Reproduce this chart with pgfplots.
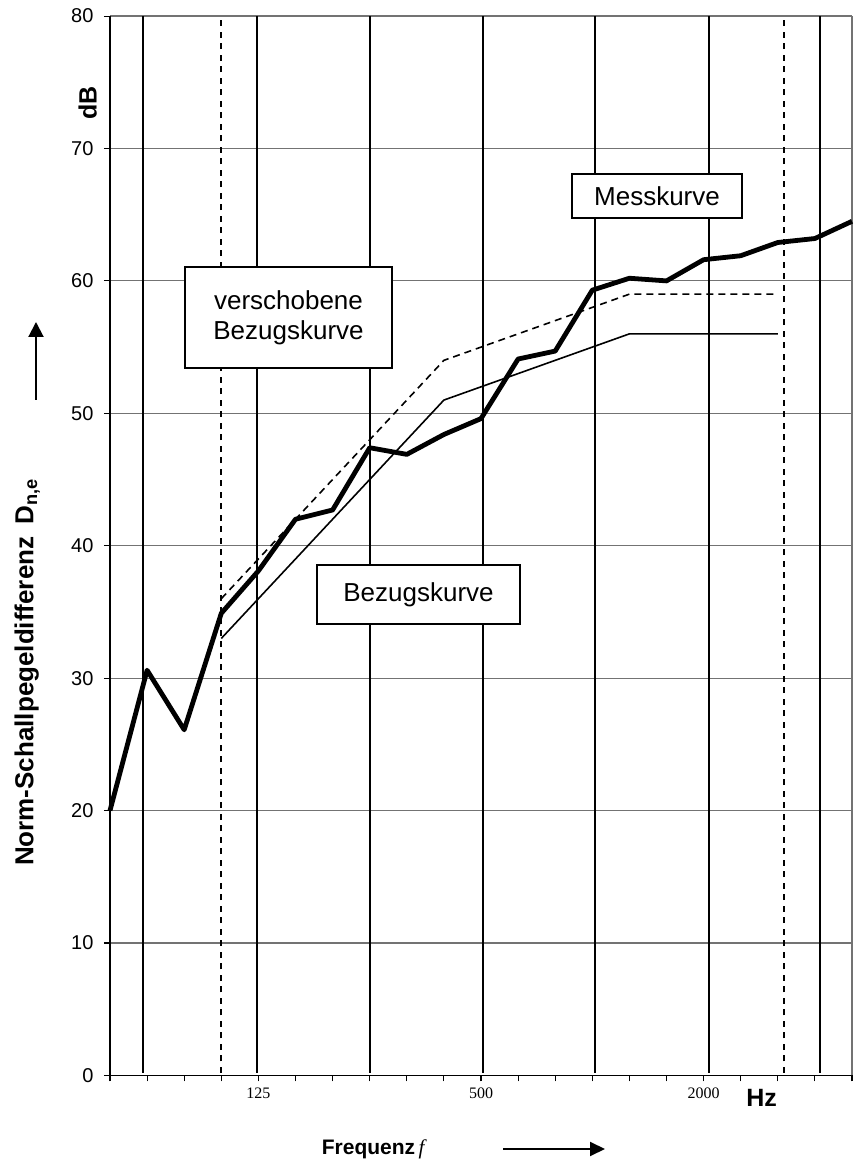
\documentclass[border=0pt]{standalone}
\usepackage{fontspec}
\setmainfont{Liberation Sans}
\newfontfamily\timesfont{Liberation Serif}
\usepackage{pgfplots}
\pgfplotsset{compat=1.18}
\usetikzlibrary{arrows.meta}

\begin{document}
\begin{tikzpicture}
\useasboundingbox (-110pt,-83.6pt) rectangle (746pt,1075.4pt);
\begin{axis}[
  at={(0pt,0pt)}, anchor=south west,
  width=742pt, height=1059.4pt, scale only axis,
  xmin=0, xmax=20, ymin=0, ymax=80,
  axis x line*=bottom, axis y line*=left,
  axis line style={black, line width=1.3pt, -},
  xtick={0,...,20},
  xticklabels={,,,,125,,,,,,500,,,,,,2000,,,,},
  ytick={0,10,...,80},
  tick align=outside,
  major tick length=6pt,
  tick style={black, line width=1.1pt},
  ymajorgrids, grid style={black!55, line width=1.2pt},
  yticklabel style={font=\fontsize{20}{24}\selectfont, xshift=-7pt},
  xticklabel style={font=\timesfont\fontsize{16}{19}\selectfont, yshift=-3pt},
  /pgf/number format/assume math mode=true,
  clip=false,
]
% right border
\addplot[black!55, line width=1.2pt] coordinates {(20,0) (20,80)};
% vertical band lines
\addplot[black, line width=2pt] coordinates {(0.90,0.2) (0.90,80)};
\addplot[black, line width=2pt] coordinates {(3.95,0.2) (3.95,80)};
\addplot[black, line width=2pt] coordinates {(7.01,0.2) (7.01,80)};
\addplot[black, line width=2pt] coordinates {(10.06,0.2) (10.06,80)};
\addplot[black, line width=2pt] coordinates {(13.07,0.2) (13.07,80)};
\addplot[black, line width=2pt] coordinates {(16.15,0.2) (16.15,80)};
\addplot[black, line width=2pt] coordinates {(19.14,0.2) (19.14,80)};
\addplot[black, line width=2pt, dash pattern=on 6pt off 5.5pt] coordinates {(2.98,0.2) (2.98,80)};
\addplot[black, line width=2pt, dash pattern=on 6pt off 5.5pt] coordinates {(18.17,0.2) (18.17,80)};
% verschobene Bezugskurve
\addplot[black, line width=1.6pt, dash pattern=on 7pt off 5pt] coordinates {(3,36) (9,54) (14,59) (18,59)};
% Bezugskurve
\addplot[black, line width=1.6pt] coordinates {(3,33) (9,51) (14,56) (18,56)};
% Messkurve
\addplot[black, line width=4.8pt, line join=round] coordinates {
(0,20.0) (1,30.6) (2,26.1) (3,34.9) (4,38.1) (5,42.0) (6,42.7) (7,47.4)
(8,46.9) (9,48.4) (10,49.6) (11,54.1) (12,54.7) (13,59.3) (14,60.2)
(15,60.0) (16,61.6) (17,61.9) (18,62.9) (19,63.2) (20,64.5)};
\end{axis}
% text boxes
\node[draw, fill=white, line width=1.3pt, minimum width=170pt, minimum height=44pt,
      font=\fontsize{26}{30}\selectfont] at (547pt,879.4pt) {Messkurve};
\node[draw, fill=white, line width=1.3pt, minimum width=207pt, minimum height=101pt,
      align=center, font=\fontsize{26}{30}\selectfont] at (178.5pt,757.9pt) {verschobene\\Bezugskurve};
\node[draw, fill=white, line width=1.3pt, minimum width=203pt, minimum height=59pt,
      font=\fontsize{26}{30}\selectfont] at (308.5pt,480.9pt) {Bezugskurve};
% axis labels
\node[rotate=90, anchor=base, font=\bfseries\fontsize{26}{30}\selectfont]
  at (-76.7pt,402.9pt) {Norm-Schallpegeldifferenz\hspace{12pt}D\textsubscript{n,e}};
\draw[line width=2pt, -{Triangle[length=15pt, width=15pt]}] (-74pt,675.4pt) -- (-74pt,753.4pt);
\node[rotate=90, anchor=base, font=\bfseries\fontsize{25}{30}\selectfont] at (-13.3pt,972.4pt) {dB};
\node[font=\bfseries\fontsize{25}{30}\selectfont] at (651.7pt,-22.1pt) {Hz};
\node[anchor=base west, inner sep=0pt, font=\bfseries\fontsize{21}{25}\selectfont]
  at (211.7pt,-78.6pt) {Frequenz\,{\timesfont\itshape\mdseries f}};
\draw[line width=2pt, -{Triangle[length=15pt, width=14pt]}] (393pt,-73.6pt) -- (495pt,-73.6pt);
\end{tikzpicture}
\end{document}
